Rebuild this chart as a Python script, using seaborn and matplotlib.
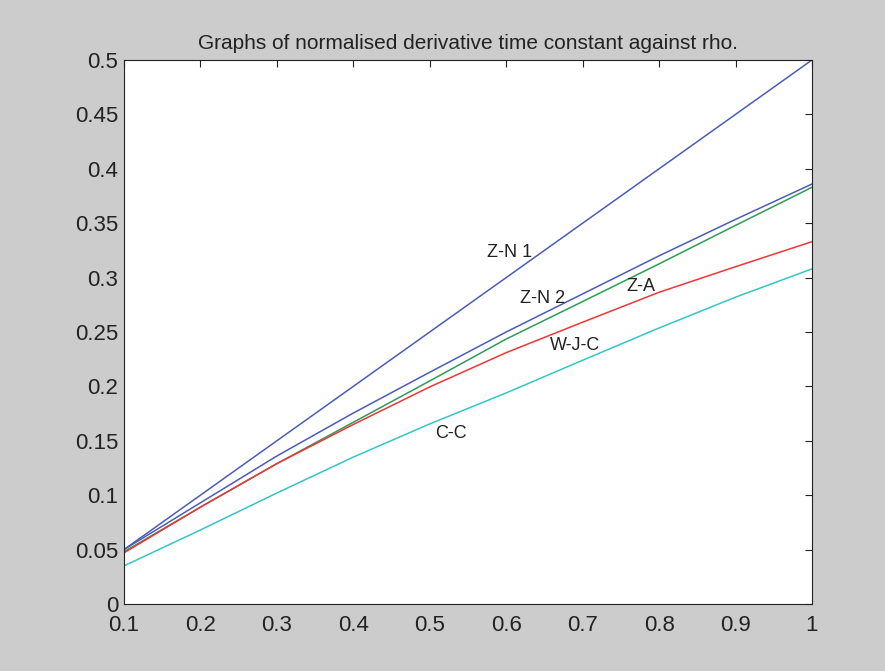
import pandas as pd
import matplotlib
matplotlib.use("Agg")
import matplotlib.pyplot as plt
import seaborn as sns

# values
rho = [0.1, 0.2, 0.3, 0.4, 0.5, 0.6, 0.7, 0.8, 0.9, 1.0]
zn1 = [0.05, 0.10, 0.15, 0.20, 0.25, 0.30, 0.35, 0.40, 0.45, 0.50]
zn2 = [0.050, 0.093, 0.136, 0.1755, 0.213, 0.250, 0.285, 0.320, 0.3535, 0.386]
za = [0.048, 0.089, 0.129, 0.167, 0.205, 0.2435, 0.278, 0.3126, 0.348, 0.383]
wjc = [0.047, 0.089, 0.129, 0.165, 0.1995, 0.231, 0.259, 0.2865, 0.310, 0.333]
cc = [0.035, 0.068, 0.102, 0.135, 0.1655, 0.194, 0.224, 0.2537, 0.282, 0.308]

labels = ["Z-N 1", "Z-N 2", "Z-A", "W-J-C", "C-C"]
colors = ["#4a5cb8", "#4a5cb8", "#2e9a5a", "#f03535", "#33c6c6"]
label_pos = [(0.605, 0.323), (0.648, 0.281), (0.776, 0.292), (0.69, 0.238), (0.528, 0.157)]

series = [zn1, zn2, za, wjc, cc]
df = pd.concat([pd.DataFrame({"rho": rho, "value": s, "method": n})
                for s, n in zip(series, labels)])

sns.set_style("white")
plt.rcParams["font.family"] = ["Liberation Sans", "DejaVu Sans"]

fig = plt.figure(figsize=(8.85, 6.71), dpi=100, facecolor="#cccccc")
ax = fig.add_axes([0.1401, 0.0999, 0.7774, 0.8107])
ax.set_facecolor("white")

for n, c in zip(labels, colors):
    sns.lineplot(data=df[df["method"] == n], x="rho", y="value", color=c,
                 linewidth=1.1, ax=ax, legend=False)

for n, (x, y) in zip(labels, label_pos):
    ax.text(x, y, n, fontsize=13, ha="center", va="center", color="#222222")

ax.set_xlim(0.1, 1)
ax.set_ylim(0, 0.5)
ax.set_xticks([0.1, 0.2, 0.3, 0.4, 0.5, 0.6, 0.7, 0.8, 0.9, 1.0])
ax.set_xticklabels(["0.1", "0.2", "0.3", "0.4", "0.5", "0.6", "0.7", "0.8", "0.9", "1"])
ax.set_yticks([0, 0.05, 0.1, 0.15, 0.2, 0.25, 0.3, 0.35, 0.4, 0.45, 0.5])
ax.set_yticklabels(["0", "0.05", "0.1", "0.15", "0.2", "0.25", "0.3", "0.35", "0.4", "0.45", "0.5"])
ax.tick_params(direction="in", top=True, right=True, length=5, width=0.8,
               labelsize=16, colors="#222222")
ax.tick_params(axis="y", pad=4)
ax.tick_params(axis="x", pad=8)
for sp in ax.spines.values():
    sp.set_color("#222222")
    sp.set_linewidth(0.8)
ax.set_xlabel("")
ax.set_ylabel("")
ax.set_title("Graphs of normalised derivative time constant against rho.",
             fontsize=15, color="#222222", pad=8)

fig.savefig("out.png", dpi=100, facecolor=fig.get_facecolor())
